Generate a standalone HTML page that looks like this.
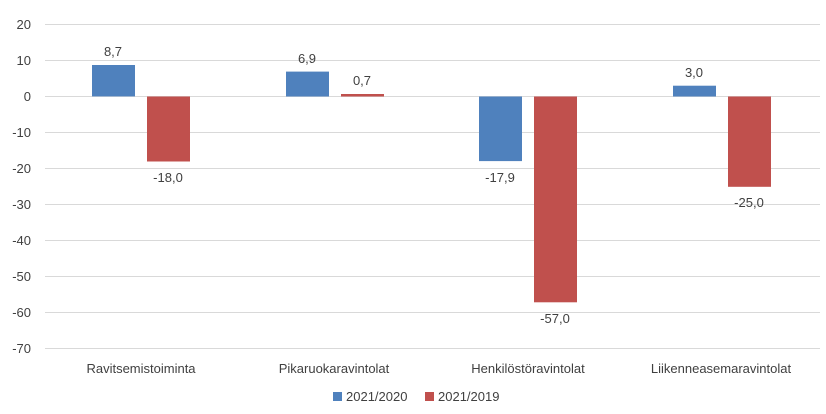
<!DOCTYPE html>
<html><head><meta charset="utf-8"><style>body{margin:0;background:#fff}</style></head><body>
<svg width="826" height="409" xmlns="http://www.w3.org/2000/svg" font-family="Liberation Sans, sans-serif" font-size="13" fill="#404040">
<g stroke="#d9d9d9" stroke-width="1">
<line x1="45" x2="820" y1="24.5" y2="24.5"/><line x1="45" x2="820" y1="60.5" y2="60.5"/><line x1="45" x2="820" y1="96.5" y2="96.5"/><line x1="45" x2="820" y1="132.5" y2="132.5"/><line x1="45" x2="820" y1="168.5" y2="168.5"/><line x1="45" x2="820" y1="204.5" y2="204.5"/><line x1="45" x2="820" y1="240.5" y2="240.5"/><line x1="45" x2="820" y1="276.5" y2="276.5"/><line x1="45" x2="820" y1="312.5" y2="312.5"/><line x1="45" x2="820" y1="348.5" y2="348.5"/>
</g>
<g text-anchor="end">
<text x="31" y="29">20</text><text x="31" y="65">10</text><text x="31" y="101">0</text><text x="31" y="137">-10</text><text x="31" y="173">-20</text><text x="31" y="209">-30</text><text x="31" y="245">-40</text><text x="31" y="281">-50</text><text x="31" y="317">-60</text><text x="31" y="353">-70</text>
</g>
<g fill="#4f81bd">
<rect x="92" y="65" width="43" height="31.4"/>
<rect x="286" y="71.6" width="43" height="24.9"/>
<rect x="479" y="96.5" width="43" height="64.6"/>
<rect x="673" y="85.7" width="43" height="10.8"/>
</g>
<g fill="#c0504d">
<rect x="147" y="96.5" width="43" height="65"/>
<rect x="341" y="94" width="43" height="2.5"/>
<rect x="534" y="96.5" width="43" height="205.8"/>
<rect x="728" y="96.5" width="43" height="90.3"/>
</g>
<g text-anchor="middle">
<text x="113" y="56">8,7</text><text x="168" y="182">-18,0</text>
<text x="307" y="63">6,9</text><text x="362" y="85">0,7</text>
<text x="500" y="182">-17,9</text><text x="555" y="323">-57,0</text>
<text x="694" y="77">3,0</text><text x="749" y="207">-25,0</text>
<text x="141" y="373">Ravitsemistoiminta</text>
<text x="334" y="373">Pikaruokaravintolat</text>
<text x="528" y="373">Henkilöstöravintolat</text>
<text x="721" y="373">Liikenneasemaravintolat</text>
</g>
<rect x="333" y="392" width="9" height="9" fill="#4f81bd"/>
<text x="346" y="401">2021/2020</text>
<rect x="425" y="392" width="9" height="9" fill="#c0504d"/>
<text x="438" y="401">2021/2019</text>
</svg>
</body></html>
